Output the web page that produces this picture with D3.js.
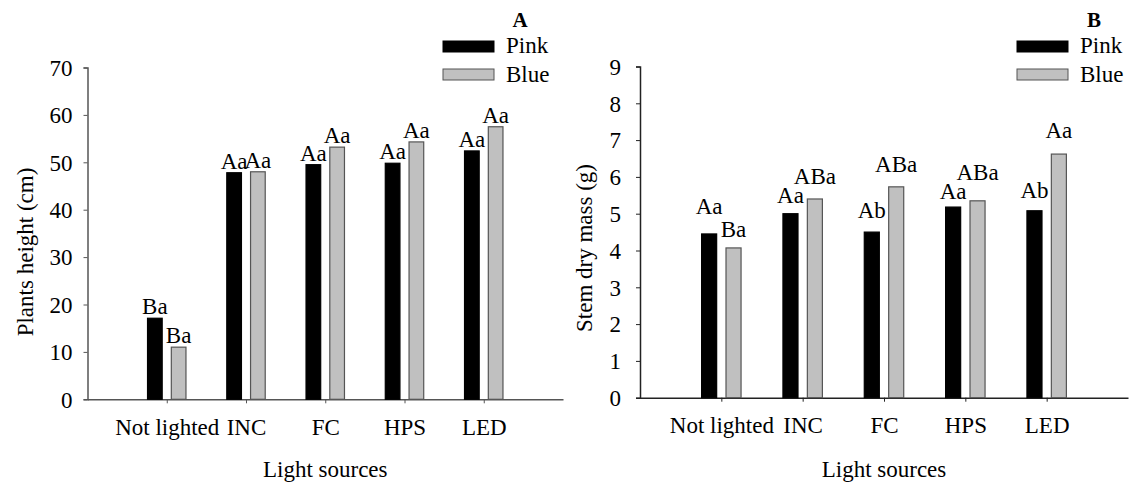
<!DOCTYPE html>
<html>
  <head>
    <meta charset="utf-8">
    <script src="https://cdn.jsdelivr.net/npm/d3@7"></script>
    <style type="text/css">
    body { margin: 0; background: #fff; }
    text { font-family: "Liberation Serif", "Times New Roman", serif; fill: #000; }
    </style>
  </head>
  <body>
    <div id="chart"></div>

    <script>
      // categories (light sources) and the two series
      var categories = ["Not lighted", "INC", "FC", "HPS", "LED"];
      var seriesNames = ["Pink", "Blue"];

      // A: plants height (cm)
      var heightPink = [17.1, 47.8, 49.5, 49.8, 52.4];
      var heightBlue = [11.0, 48.0, 53.2, 54.3, 57.5];
      var heightPinkLetters = ["Ba", "Aa", "Aa", "Aa", "Aa"];
      var heightBlueLetters = ["Ba", "Aa", "Aa", "Aa", "Aa"];
      var heightTicks = [0, 10, 20, 30, 40, 50, 60, 70];

      // B: stem dry mass (g)
      var massPink = [4.45, 5.0, 4.5, 5.18, 5.08];
      var massBlue = [4.07, 5.4, 5.73, 5.35, 6.62];
      // where the letters sit (top of the hidden error bar)
      var massPinkLabelAt = [4.98, 5.30, 4.89, 5.39, 5.43];
      var massBlueLabelAt = [4.37, 5.80, 6.13, 5.92, 7.06];
      var massPinkLetters = ["Aa", "Aa", "Ab", "Aa", "Ab"];
      var massBlueLetters = ["Ba", "ABa", "ABa", "ABa", "Aa"];
      var massTicks = [0, 1, 2, 3, 4, 5, 6, 7, 8, 9];

      var colors = ["#000000", "#c0c0c0"];

      var svg = d3.select("#chart").append("svg")
          .attr("width", 1130)
          .attr("height", 482);

      function panel(o) {
        var g = svg.append("g");

        var x = d3.scaleLinear().domain([0, categories.length + 1]).range([o.left, o.right]);
        var y = d3.scaleLinear().domain([0, o.max]).range([o.bottom, o.top]);
        var step = x(1) - x(0);
        var bw = step * 0.185;
        var off = step * 0.15;

        // y axis
        var ya = g.append("g")
            .attr("transform", "translate(" + o.left + ",0)")
            .call(d3.axisLeft(y).tickValues(o.ticks).tickSize(4).tickPadding(o.pad));
        ya.select(".domain").attr("stroke", o.axis).attr("stroke-width", 1.5);
        ya.selectAll(".tick line").attr("stroke", o.axis);
        ya.selectAll(".tick text").style("font-size", "23px").attr("dy", "0.34em");

        // x axis
        var xa = g.append("g")
            .attr("transform", "translate(0," + o.bottom + ")")
            .call(d3.axisBottom(x).tickValues(d3.range(1, categories.length + 1))
                .tickSize(4).tickSizeOuter(0).tickPadding(15)
                .tickFormat(function(d) { return categories[d - 1]; }));
        xa.select(".domain").attr("stroke", o.axis).attr("stroke-width", 1.5);
        xa.selectAll(".tick line").attr("stroke", o.axis);
        xa.selectAll(".tick text").style("font-size", "23px");

        var series = [
          {vals: o.pink, letters: o.pinkLetters, at: o.pinkAt, dx: -off, color: colors[0], stroke: "#000"},
          {vals: o.blue, letters: o.blueLetters, at: o.blueAt, dx: off, color: colors[1], stroke: "#555"}
        ];

        series.forEach(function(s) {
          g.selectAll(null)
            .data(s.vals)
            .enter()
            .append("rect")
            .attr("x", function(d, i) { return x(i + 1) + s.dx - bw / 2; })
            .attr("y", function(d) { return y(d); })
            .attr("width", bw)
            .attr("height", function(d) { return y(0) - y(d); })
            .attr("fill", s.color)
            .attr("stroke", s.stroke)
            .attr("stroke-width", 1.2);

          g.selectAll(null)
            .data(s.letters)
            .enter()
            .append("text")
            .attr("x", function(d, i) { return x(i + 1) + s.dx; })
            .attr("y", function(d, i) { return s.at ? y(s.at[i]) : y(s.vals[i]) - 4; })
            .attr("text-anchor", "middle")
            .style("font-size", "23px")
            .text(function(d) { return d; });
        });

        // axis titles
        g.append("text")
          .attr("x", (o.left + o.right) / 2)
          .attr("y", 477)
          .attr("text-anchor", "middle")
          .style("font-size", "23px")
          .text("Light sources");

        g.append("text")
          .attr("transform", "translate(" + o.titleX + "," + o.titleY + ") rotate(-90)")
          .attr("text-anchor", "middle")
          .style("font-size", "23px")
          .text(o.title);

        // legend
        seriesNames.forEach(function(name, i) {
          g.append("rect")
            .attr("x", o.legX)
            .attr("y", 41 + i * 28)
            .attr("width", 51)
            .attr("height", 11)
            .attr("fill", colors[i])
            .attr("stroke", i ? "#555" : "#000");
          g.append("text")
            .attr("x", o.legX + 63)
            .attr("y", 53 + i * 29)
            .style("font-size", "23px")
            .text(name);
        });

        g.append("text")
          .attr("x", o.legX + 77)
          .attr("y", 27)
          .attr("text-anchor", "middle")
          .style("font-size", "21px")
          .style("font-weight", "bold")
          .text(o.letter);
      }

      panel({
        left: 87.5, right: 563, top: 67.5, bottom: 399.3, max: 70,
        ticks: heightTicks, pad: 11, axis: "#555",
        pink: heightPink, blue: heightBlue,
        pinkLetters: heightPinkLetters, blueLetters: heightBlueLetters,
        title: "Plants height (cm)", titleX: 33, titleY: 252,
        legX: 443, letter: "A"
      });

      panel({
        left: 640, right: 1128, top: 66.5, bottom: 397.7, max: 9,
        ticks: massTicks, pad: 15, axis: "#222",
        pink: massPink, blue: massBlue,
        pinkLetters: massPinkLetters, blueLetters: massBlueLetters,
        pinkAt: massPinkLabelAt, blueAt: massBlueLabelAt,
        title: "Stem dry mass (g)", titleX: 592, titleY: 248,
        legX: 1017, letter: "B"
      });
    </script>
  </body>
</html>
